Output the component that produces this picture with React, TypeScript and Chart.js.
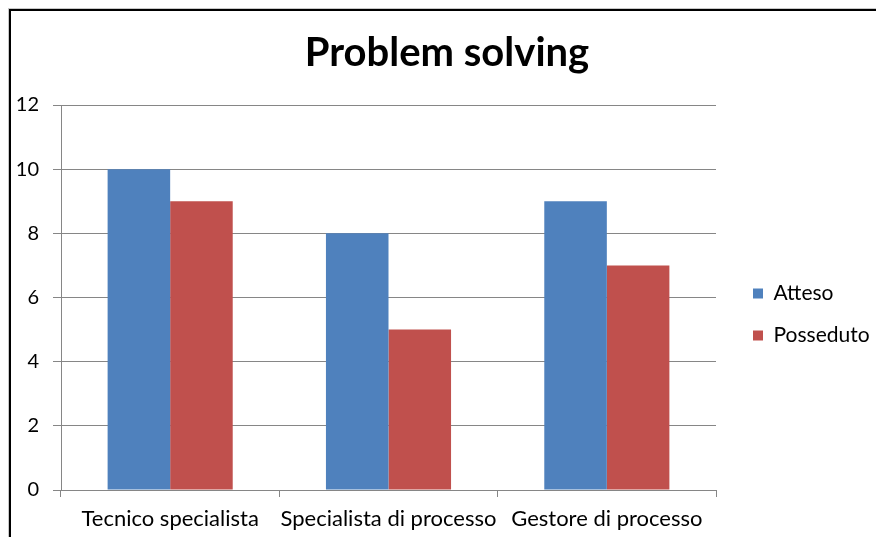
import React, { useEffect, useRef } from "react";
import { Chart, registerables } from "chart.js";

Chart.register(...registerables);

const categories = ["Tecnico specialista", "Specialista di processo", "Gestore di processo"];
const attesoValues = [10, 8, 9];
const possedutoValues = [9, 5, 7];
const seriesNames = ["Atteso", "Posseduto"];
const seriesColors = ["#4F81BD", "#C0504D"];
const titleText = "Problem solving";
const yMin = 0;
const yMax = 12;
const yStep = 2;

const FONT = "Lato, 'Open Sans', sans-serif";

export default function App() {
  const ref = useRef<HTMLCanvasElement>(null);

  useEffect(() => {
    if (!ref.current) return;
    const layoutTweak = {
      id: "layoutTweak",
      afterInit(chart: any) {
        const lg = chart.legend;
        if (!lg) return;
        const orig = lg.fit;
        lg.fit = function () {
          orig.call(this);
          this.width = 160;
        };
      },
      afterLayout(chart: any) {
        const lg = chart.legend;
        if (lg) {
          const dx = 16;
          const dy = 46;
          lg.left += dx;
          lg.right += dx;
          lg.top += dy;
          lg.bottom += dy;
        }
        const tb = chart.titleBlock;
        if (tb) {
          tb.left += 9;
          tb.right += 9;
        }
      },
    };

    const chart = new Chart(ref.current, {
      type: "bar",
      data: {
        labels: categories,
        datasets: [
          {
            label: seriesNames[0],
            data: attesoValues,
            backgroundColor: seriesColors[0],
            borderWidth: 0,
          },
          {
            label: seriesNames[1],
            data: possedutoValues,
            backgroundColor: seriesColors[1],
            borderWidth: 0,
          },
        ],
      },
      options: {
        responsive: false,
        animation: false,
        datasets: {
          bar: {
            barPercentage: 1,
            categoryPercentage: 0.573,
          },
        },
        layout: { padding: { left: 0, right: 0, top: 0, bottom: 0 } },
        plugins: {
          title: {
            display: true,
            text: titleText,
            color: "#000",
            font: { family: FONT, size: 40, weight: "bold" },
            padding: { top: 29, bottom: 28 },
          },
          legend: {
            display: true,
            position: "right",
            align: "center",
            labels: {
              color: "#000",
              font: { family: FONT, size: 21 },
              boxWidth: 10,
              boxHeight: 10,
              padding: 21,
            },
          },
          tooltip: { enabled: false },
        },
        scales: {
          x: {
            offset: true,
            grid: {
              display: true,
              offset: true,
              drawOnChartArea: false,
              drawTicks: true,
              tickLength: 7,
              color: "#868686",
            },
            border: { display: true, color: "#868686", width: 1 },
            ticks: {
              color: "#000",
              font: { family: FONT, size: 22 },
              padding: 9,
              maxRotation: 0,
              autoSkip: false,
            },
            afterFit(scale: any) {
              scale.height = 47;
            },
          },
          y: {
            min: yMin,
            max: yMax,
            ticks: {
              stepSize: yStep,
              color: "#000",
              font: { family: FONT, size: 20 },
              padding: 14,
            },
            grid: {
              display: true,
              drawOnChartArea: true,
              drawTicks: true,
              tickLength: 8,
              color: "#868686",
            },
            border: { display: true, color: "#868686", width: 1 },
            afterFit(scale: any) {
              scale.width = 61;
            },
          },
        },
      },
      plugins: [layoutTweak],
    } as any);

    return () => chart.destroy();
  }, []);

  return (
    <div style={{ position: "absolute", left: 0, top: 0, width: 876, height: 537, background: "#fff", overflow: "hidden" }}>
      <canvas ref={ref} width={876} height={537} style={{ display: "block", width: 876, height: 537 }} />
      <div style={{ position: "absolute", left: 8, top: 8, width: 868, height: 1, background: "#c8c8c8" }} />
      <div style={{ position: "absolute", left: 8, top: 8, width: 1, height: 529, background: "#c8c8c8" }} />
      <div style={{ position: "absolute", left: 9, top: 9, width: 867, height: 2, background: "#000" }} />
      <div style={{ position: "absolute", left: 9, top: 9, width: 2, height: 528, background: "#000" }} />
    </div>
  );
}
